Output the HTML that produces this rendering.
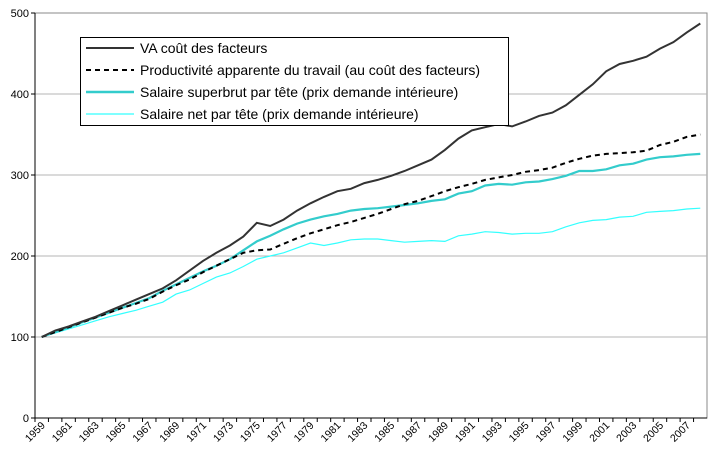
<!DOCTYPE html>
<html><head><meta charset="utf-8"><style>
body{margin:0;background:#fff;}
svg{display:block;font-family:"Liberation Sans",Arial,sans-serif;}
</style></head><body>
<svg id="chart" width="715" height="461"></svg>
<script>
const years=[];for(let y=1959;y<=2008;y++)years.push(y);
const vaCout=[100,108,113,119,125,132,139,146,153,160,170,182,194,204,213,224,241,237,245,256,265,273,280,283,290,294,299,305,312,319,331,345,355,359,363,360,366,373,377,386,399,412,428,437,441,446,456,464,476,487];
const productivite=[100,106,112,118,124,130,136,141,147,156,164,171,180,188,196,204,207,208,215,222,228,233,238,242,247,252,258,264,268,274,280,285,289,294,297,300,304,306,309,315,320,324,326,327,328,330,337,341,347,350];
const superbrut=[100,106,112,118,124,130,136,142,148,157,165,173,181,188,196,207,218,225,233,240,245,249,252,256,258,259,261,263,265,268,270,277,280,287,289,288,291,292,295,299,305,305,307,312,314,319,322,323,325,326];
const salaireNet=[100,105,110,115,120,125,129,133,138,143,153,158,166,174,179,187,196,200,204,210,216,213,216,220,221,221,219,217,218,219,218,225,227,230,229,227,228,228,230,236,241,244,245,248,249,254,255,256,258,259];
const yTicks=[0,100,200,300,400,500];
const L=35,R=707,T=13,B=418;
const NS="http://www.w3.org/2000/svg";
const svg=document.getElementById('chart');
const bw=(R-L)/years.length;
const xs=i=>L+bw*(i+0.5);
const ys=v=>B-(v/500)*(B-T);
function mk(t,a,p){const e=document.createElementNS(NS,t);for(const k in a)e.setAttribute(k,a[k]);(p||svg).appendChild(e);return e;}
let e;
e=mk('rect',{x:L,y:T,width:R-L,height:B-T,fill:'none',stroke:'#888','stroke-width':1});


yTicks.forEach(v=>{
 if(v>0&&v<500){e=mk('line',{x1:L,x2:R,y1:ys(v),y2:ys(v),stroke:'#b4b4b4'});
 
 }
 mk('line',{x1:L-4,x2:L,y1:ys(v),y2:ys(v),stroke:'#000'});
 e=mk('text',{x:L-6,y:ys(v)+4,'text-anchor':'end','font-size':11});e.textContent=v;
 
 
});
mk('line',{x1:L,x2:L,y1:T,y2:B,stroke:'#000'});
mk('line',{x1:L,x2:R,y1:B,y2:B,stroke:'#000'});
years.forEach((y,i)=>{
 mk('line',{x1:L+bw*i,x2:L+bw*i,y1:B,y2:B+4,stroke:'#000'});
 if(i%2===0){const x=xs(i)+4,yy=B+8;
 e=mk('text',{x:x,y:yy,'text-anchor':'end','font-size':10.5,transform:`rotate(-45 ${x} ${yy})`});e.textContent=y;
 
 }
});
function series(data,color,w,dash,name){
 const d=data.map((v,i)=>(i?'L':'M')+xs(i).toFixed(1)+' '+ys(v).toFixed(1)).join(' ');
 const p=mk('path',{d:d,fill:'none',stroke:color,'stroke-width':w});
 if(dash)p.setAttribute('stroke-dasharray',dash);
 
 
}
series(salaireNet,'#33ffff',1.2,null,'series-salaire-net');
series(superbrut,'#33cccc',2.2,null,'series-salaire-superbrut');
series(productivite,'#000',2,'5,4','series-productivite');
series(vaCout,'#333',2,null,'series-va-cout');
const lg=mk('g',{});


mk('rect',{x:80.5,y:37.5,width:428,height:88,fill:'#fff',stroke:'#000'},lg);
const items=[['VA coût des facteurs','#333',2,null],['Productivité apparente du travail (au coût des facteurs)','#000',2,'5,4'],['Salaire superbrut par tête (prix demande intérieure)','#33cccc',2.5,null],['Salaire net par tête (prix demande intérieure)','#33ffff',1.2,null]];
items.forEach((it,k)=>{const y=48+k*22;
 const g=mk('g',{},lg);
 
 
 const l=mk('line',{x1:86,x2:134,y1:y,y2:y,stroke:it[1],'stroke-width':it[2]},g);
 if(it[3])l.setAttribute('stroke-dasharray',it[3]);
 const t=mk('text',{x:140,y:y+5,'font-size':14},g);t.textContent=it[0];
});
</script>
</body></html>
